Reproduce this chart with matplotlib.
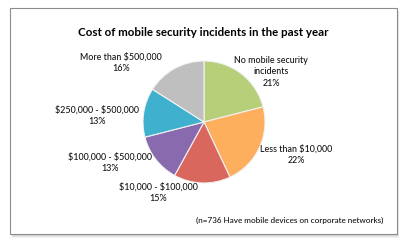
import matplotlib.pyplot as plt
from matplotlib.patches import Rectangle

categories = ["No mobile security\nincidents", "Less than $10,000", "$10,000 - $100,000",
              "$100,000 - $500,000", "$250,000 - $500,000", "More than $500,000"]
shares = [21, 22, 15, 13, 13, 16]
colors = ["#B6CF78", "#FDAF5E", "#D9675E", "#8A6AAE", "#3FB1CE", "#BFBFBF"]

# label anchor points in pixel space (x, y from top)
label_pos = [(271, 72), (296, 155), (158, 193), (110, 163), (97, 116), (121, 63)]

W, H = 407, 248
fig = plt.figure(figsize=(W / 100, H / 100), dpi=100)
ax = fig.add_axes([0, 0, 1, 1])

font = ["Lato", "DejaVu Sans"]

# shadow + frame
for i, a in enumerate([0.05, 0.05, 0.06, 0.08]):
    off = 4 - i
    ax.add_patch(Rectangle((10 + off * 0.5, H - 234 - off), 387, 226, facecolor="black",
                           alpha=a, edgecolor="none", zorder=0))
ax.add_patch(Rectangle((10, H - 234), 387, 226, facecolor="white", edgecolor="#8C8C8C",
                       linewidth=0.8, zorder=1))

wedges, _ = ax.pie(shares, colors=colors, startangle=90, counterclock=False,
                   center=(204, H - 122), radius=61, frame=True,
                   wedgeprops=dict(edgecolor="#F2F2F2", linewidth=0.8))
for w in wedges:
    w.set_zorder(2)

for cat, val, (x, y) in zip(categories, shares, label_pos):
    txt = cat.replace("$", r"\$")
    ax.text(x, H - y, f"{txt}\n{val}%", ha="center", va="center", fontsize=6.4,
            family=font, fontweight="medium", linespacing=1.35, color="#111111", zorder=3)

ax.text(203, H - 33, "Cost of mobile security incidents in the past year", ha="center",
        va="center", fontsize=8.3, fontweight="bold", family=font, color="black", zorder=3)
ax.text(383, H - 220, "(n=736 Have mobile devices on corporate networks)", ha="right",
        va="center", fontsize=5.9, family=font, fontweight="medium", color="#111111", zorder=3)

ax.set_xlim(0, W)
ax.set_ylim(0, H)
ax.set_aspect("equal")
ax.axis("off")
fig.savefig("out.png", dpi=100)
